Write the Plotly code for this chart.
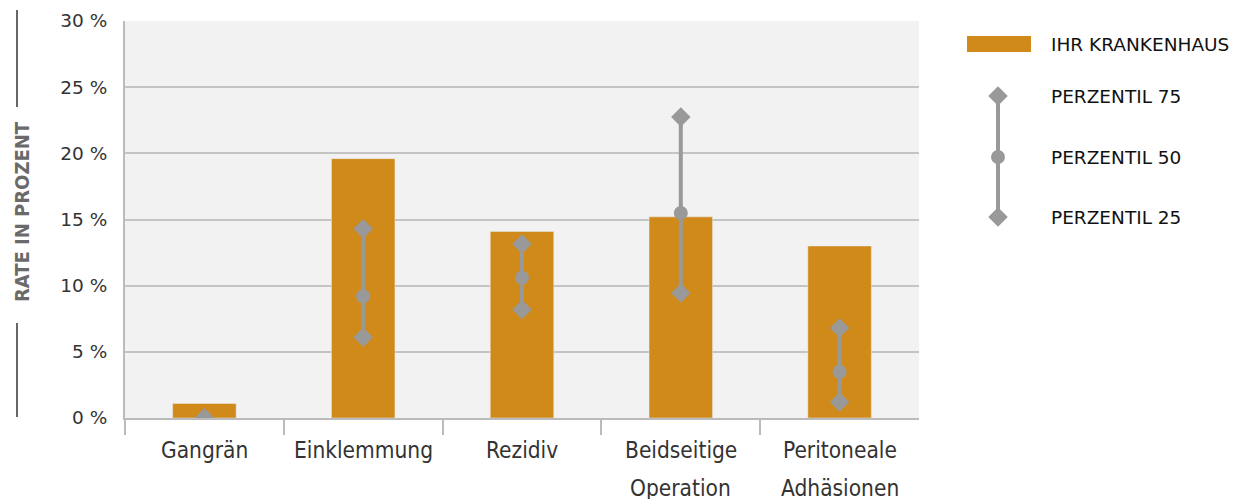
import plotly.graph_objects as go

categories = ["Gangrän", "Einklemmung", "Rezidiv", "Beidseitige<br>Operation", "Peritoneale<br>Adhäsionen"]
hospital = [1.1, 19.6, 14.1, 15.2, 13.0]
p75 = [0.0, 14.3, 13.15, 22.75, 6.8]
p50 = [0.0, 9.2, 10.6, 15.5, 3.5]
p25 = [0.0, 6.1, 8.2, 9.45, 1.2]
yticks = [0, 5, 10, 15, 20, 25, 30]
legend_labels = ["IHR KRANKENHAUS", "PERZENTIL 75", "PERZENTIL 50", "PERZENTIL 25"]
axis_title = "RATE IN PROZENT"

ORANGE = "#D08A1A"
GREY = "#999999"
COND = "DejaVu Sans Condensed, Liberation Sans Narrow, Roboto Condensed, Roboto"
OFF = 8  # page body offset
W, H = 1238, 499
ML = 125 - OFF
MT = 21 - OFF
BOTTOM = 418 - OFF
MB = H - BOTTOM
PW = W - ML
PH = BOTTOM - MT
main_right = 919 - OFF
leg_left = 950 - OFF


def px_x(x):
    return (x - OFF - ML) / PW


def px_y(y):
    return (BOTTOM - (y - OFF)) / PH


fig = go.Figure()
fig.add_trace(go.Bar(x=categories, y=hospital, marker_color=ORANGE, width=0.4,
                     showlegend=False, hoverinfo="skip"))

lx, ly = [], []
for c, hi, lo in zip(categories, p75, p25):
    lx += [c, c, None]
    ly += [lo, hi, None]
fig.add_trace(go.Scatter(x=lx, y=ly, mode="lines", line=dict(color=GREY, width=4),
                         showlegend=False, hoverinfo="skip"))
for vals, sym, sz in [(p75, "diamond", 15), (p50, "circle", 14), (p25, "diamond", 15)]:
    fig.add_trace(go.Scatter(x=categories, y=vals, mode="markers",
                             marker=dict(symbol=sym, size=sz, color=GREY, line_width=0), showlegend=False))

# legend glyphs on overlay axes (reference pixel coordinates)
lgx = 998
lgy = [96, 157, 217]
fig.add_trace(go.Scatter(x=[lgx, lgx], y=[lgy[0], lgy[2]], mode="lines", line=dict(color=GREY, width=4),
                         xaxis="x2", yaxis="y2", showlegend=False, hoverinfo="skip"))
for yy, sym, sz in [(lgy[0], "diamond", 15), (lgy[1], "circle", 14), (lgy[2], "diamond", 15)]:
    fig.add_trace(go.Scatter(x=[lgx], y=[yy], mode="markers",
                             marker=dict(symbol=sym, size=sz, color=GREY, line_width=0),
                             xaxis="x2", yaxis="y2", showlegend=False, hoverinfo="skip"))

shapes = [
    dict(type="rect", xref="x2", yref="y2", x0=967, x1=1031, y0=36, y1=52, fillcolor=ORANGE, line_width=0),
    dict(type="line", xref="paper", yref="paper", x0=px_x(17), x1=px_x(17), y0=px_y(10), y1=px_y(107),
         line=dict(color="#666666", width=2)),
    dict(type="line", xref="paper", yref="paper", x0=px_x(17), x1=px_x(17), y0=px_y(323), y1=px_y(417),
         line=dict(color="#666666", width=2)),
    dict(type="rect", xref="x domain", yref="y domain", x0=0, x1=1, y0=0, y1=1,
         fillcolor="#f2f2f2", line_width=0, layer="below"),
]

annotations = []
for txt, yy in zip(legend_labels, [44] + lgy):
    annotations.append(dict(text=txt, xref="x2", yref="y2", x=1049, y=yy, xanchor="left", yanchor="middle",
                            showarrow=False, font=dict(family="DejaVu Sans", size=18.5, color="#111111")))
annotations.append(dict(text="<b>" + axis_title + "</b>", xref="paper", yref="paper", x=px_x(22), y=px_y(212),
                        textangle=-90, showarrow=False, xanchor="center", yanchor="middle",
                        font=dict(family=COND, size=20, color="#6a6a6a")))
for c in categories:
    for i, part in enumerate(c.split("<br>")):
        annotations.append(dict(text=part, xref="x", yref="paper", x=c, y=px_y(450 + 38 * i),
                                xanchor="center", yanchor="middle", showarrow=False,
                                font=dict(family=COND, size=22.5, color="#333333")))

fig.update_layout(
    width=W, height=H,
    margin=dict(l=ML, r=0, t=MT, b=MB),
    paper_bgcolor="white", plot_bgcolor="rgba(0,0,0,0)",
    showlegend=False,
    xaxis=dict(domain=[0, (main_right - ML) / PW], type="category", showticklabels=False,
               ticks="outside", ticklen=15, tickcolor="#bbbbbb", tickwidth=2, tickson="boundaries",
               showline=True, linecolor="#bbbbbb", linewidth=2, showgrid=False, zeroline=False,
               range=[-0.5, len(categories) - 0.5], anchor="y"),
    yaxis=dict(range=[0, 30], tickvals=yticks, ticktext=[f"{v} %" for v in yticks],
               showgrid=True, gridcolor="#c4c4c4", gridwidth=1.5, zeroline=False,
               showline=True, linecolor="#bbbbbb", linewidth=2, ticks="", ticklabelstandoff=12,
               tickfont=dict(family="DejaVu Sans", size=18.5, color="#333333"), anchor="x"),
    xaxis2=dict(domain=[(leg_left - ML) / PW, 1], range=[leg_left + OFF, W + OFF], visible=False, anchor="y2"),
    yaxis2=dict(domain=[0, 1], range=[BOTTOM + OFF, MT + OFF], visible=False, anchor="x2"),
    shapes=shapes,
    annotations=annotations,
)

fig.write_html("out.html")
